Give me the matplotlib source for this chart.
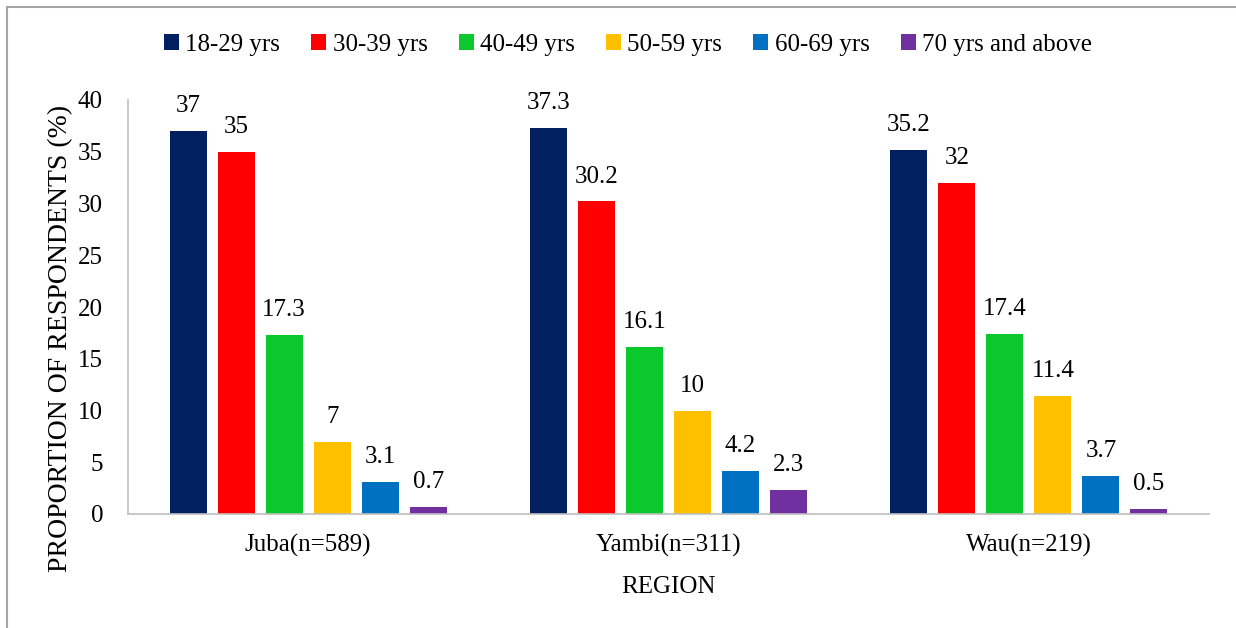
import numpy as np
import matplotlib.pyplot as plt
from matplotlib.patches import Rectangle

plt.rcParams['font.family'] = ['Liberation Serif', 'DejaVu Serif']

regions = ['Juba(n=589)', 'Yambi(n=311)', 'Wau(n=219)']
age_groups = ['18-29 yrs', '30-39 yrs', '40-49 yrs', '50-59 yrs', '60-69 yrs', '70 yrs and above']
juba = [37, 35, 17.3, 7, 3.1, 0.7]
yambi = [37.3, 30.2, 16.1, 10, 4.2, 2.3]
wau = [35.2, 32, 17.4, 11.4, 3.7, 0.5]
colors = ['#002060', '#FF0000', '#0BC92C', '#FFC000', '#0070C0', '#7030A0']

values = np.array([juba, yambi, wau])
x = np.arange(len(regions))
step = 0.1333
width = 0.103
fs = 18

fig = plt.figure(figsize=(12.36, 6.28), dpi=100)
ax = fig.add_axes([128 / 1236, 1 - 514 / 628, (1209 - 128) / 1236, 414 / 628])

for j, grp in enumerate(age_groups):
    pos = x + (j - 2.5) * step
    bars = ax.bar(pos, values[:, j], width, color=colors[j], label=grp)
    for b, v in zip(bars, values[:, j]):
        ax.annotate('{:g}'.format(v), (b.get_x() + b.get_width() / 2, v),
                    xytext=(0, 10), textcoords='offset points',
                    ha='center', va='bottom', fontsize=fs)

ax.set_xlim(-0.5, 2.5)
ax.set_ylim(0, 40)
ax.set_yticks(range(0, 45, 5))
ax.set_xticks(x)
ax.set_xticklabels(regions)
ax.tick_params(length=0, labelsize=fs, colors='black')
ax.tick_params(axis='x', pad=14)
ax.tick_params(axis='y', pad=18)
for s in ['top', 'right']:
    ax.spines[s].set_visible(False)
for s in ['left', 'bottom']:
    ax.spines[s].set_color('#BFBFBF')
    ax.spines[s].set_linewidth(1.2)

ax.set_xlabel('REGION', fontsize=fs, labelpad=14)
ax.set_ylabel('PROPORTION OF RESPONDENTS (%)', fontsize=20)
ax.yaxis.set_label_coords(-0.051, 0.425)

fig.legend(loc='center', bbox_to_anchor=(628 / 1236, 1 - 45 / 628), ncol=6,
           frameon=False, fontsize=fs, handlelength=0.6, handleheight=0.6,
           handletextpad=0.25, columnspacing=1.25)

# outer frame of the chart area
fig.patches.append(Rectangle((7 / 1236, -0.05), 1.2, 1 - 7 / 628 + 0.05,
                             transform=fig.transFigure, fill=False,
                             edgecolor='#A6A6A6', linewidth=1.5))

fig.savefig('out.png', dpi=100)
